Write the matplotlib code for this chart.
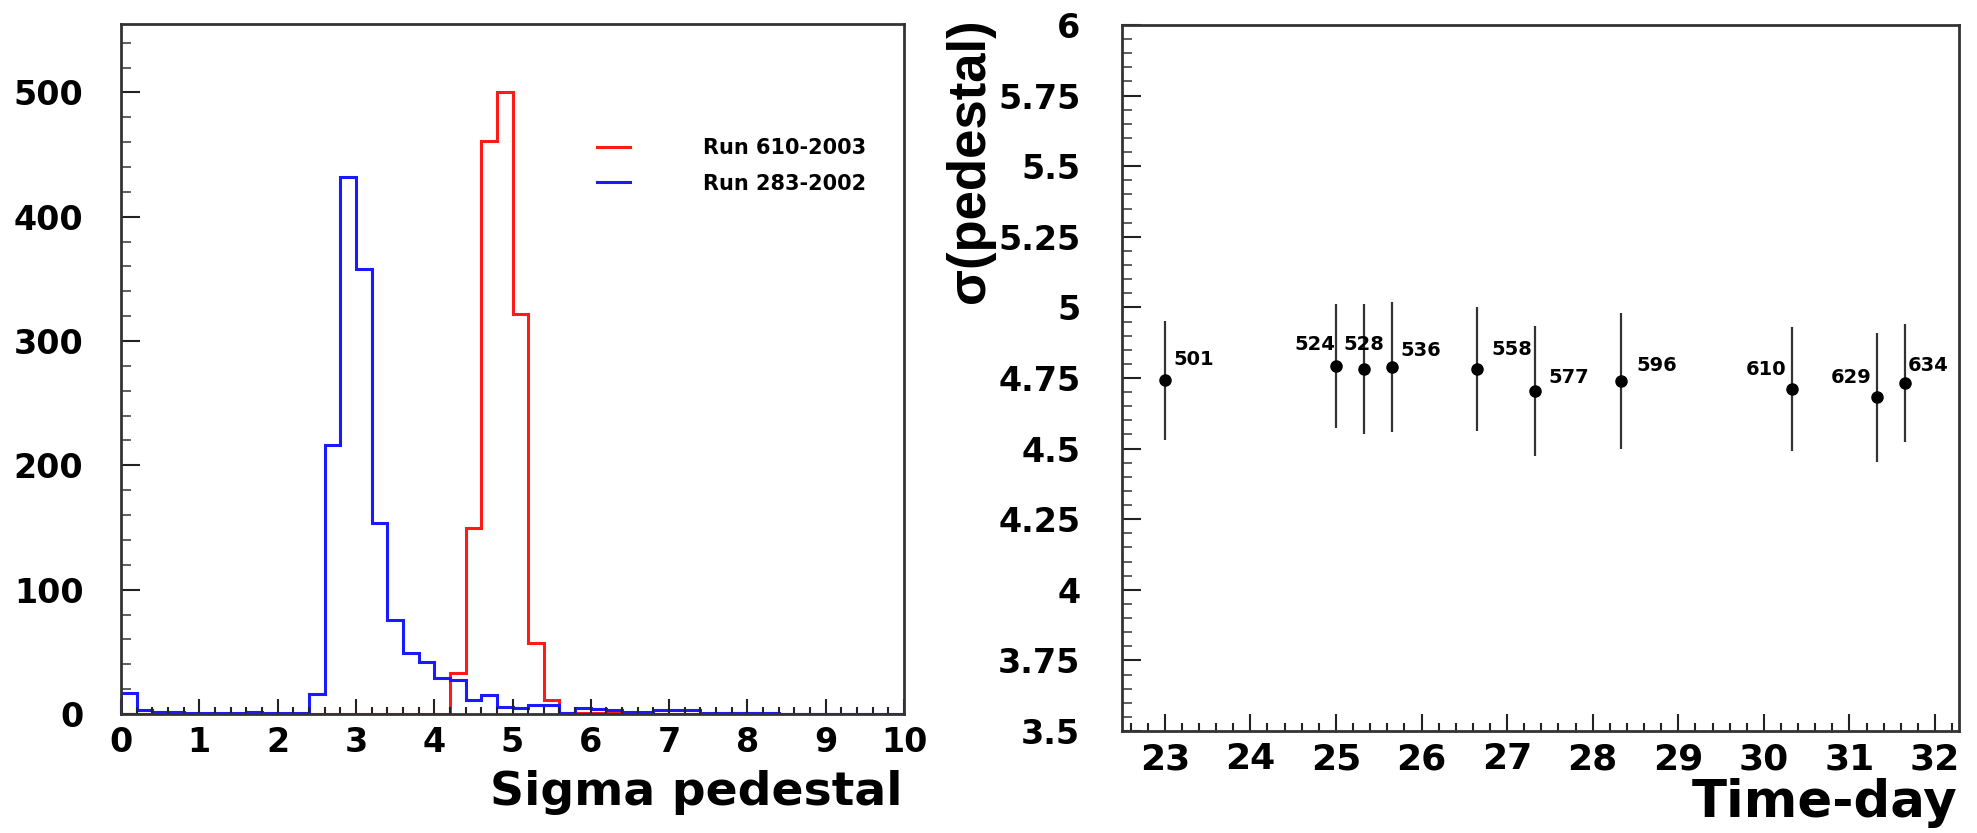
import numpy as np
import matplotlib
matplotlib.use("Agg")
import matplotlib.pyplot as plt
from matplotlib.ticker import MultipleLocator, FuncFormatter

# ---------------- data ----------------
hist_range = (0.0, 10.0)
n_bins = 50
blue_counts = [17, 3, 2, 2, 1, 1, 1, 1, 2, 1,
               1, 1, 16, 216, 432, 358, 154, 76, 49, 42,
               29, 27, 11, 15, 6, 5, 7, 7, 1, 5,
               4, 3, 2, 2, 3, 3, 3, 1, 1, 1,
               1, 1, 0, 0, 0, 0, 0, 0, 0, 0]
red_counts = [0, 0, 0, 0, 0, 0, 0, 0, 0, 0,
              0, 0, 0, 0, 0, 0, 0, 0, 0, 0,
              0, 33, 150, 461, 500, 322, 57, 11, 1, 1,
              1, 1, 0, 0, 0, 0, 0, 0, 1, 1,
              1, 1, 0, 0, 0, 0, 0, 0, 0, 0]
red_label = "Run 610-2003"
blue_label = "Run 283-2002"

days = [23.0, 25.0, 25.33, 25.66, 26.65, 27.32, 28.33, 30.33, 31.32, 31.65]
sigma = [4.742, 4.792, 4.781, 4.790, 4.782, 4.704, 4.740, 4.710, 4.681, 4.732]
sigma_err = [0.21, 0.22, 0.23, 0.23, 0.22, 0.23, 0.24, 0.22, 0.23, 0.21]
runs = ["501", "524", "528", "536", "558", "577", "596", "610", "629", "634"]

left_yticks = [0, 100, 200, 300, 400, 500]
left_xticks = [0, 1, 2, 3, 4, 5, 6, 7, 8, 9, 10]
right_xticks = [23, 24, 25, 26, 27, 28, 29, 30, 31, 32]
right_yticks = [3.5, 3.75, 4, 4.25, 4.5, 4.75, 5, 5.25, 5.5, 5.75, 6]

# label placement (pixel offsets from the point, horizontal alignment)
label_dx = [9, -1, 0, 8, 14, 14, 15, -6, -5, 3]
label_dy = [15, 16, 19, 11, 14, 8, 10, 14, 14, 12]
label_ha = ["left", "right", "center", "left", "left", "left", "left", "right", "right", "left"]

# ---------------- figure ----------------
W, H = 1977, 833
fig = plt.figure(figsize=(W / 100, H / 100), dpi=100)
FONT = "DejaVu Sans"
frame_col = "#333333"


def fx(px):
    return px / W


def fy(py):
    return 1 - py / H


def style_frame(ax):
    for s in ax.spines.values():
        s.set_linewidth(2.0)
        s.set_color(frame_col)


# ----- left panel -----
axL = fig.add_axes([fx(121), fy(714), fx(904) - fx(121), fy(24) - fy(714)])
edges = np.linspace(hist_range[0], hist_range[1], n_bins + 1)
axL.stairs(red_counts, edges, color="#ff1a1a", linewidth=2.2, baseline=0, label=red_label)
axL.stairs(blue_counts, edges, color="#1a1aff", linewidth=2.2, baseline=0, label=blue_label)
axL.set_xlim(0, 10)
axL.set_ylim(0, 555)
style_frame(axL)
axL.set_xticks(left_xticks)
axL.set_yticks(left_yticks)
axL.xaxis.set_minor_locator(MultipleLocator(0.2))
axL.yaxis.set_minor_locator(MultipleLocator(20))
axL.tick_params(axis="x", which="major", direction="in", length=11, width=1.5,
                color="#222222", pad=9, labelsize=24)
axL.tick_params(axis="x", which="minor", direction="in", length=5, width=1.5, color="#222222")
axL.tick_params(axis="y", which="major", direction="in", length=14, width=1.5,
                color="#222222", pad=27, labelsize=24)
axL.tick_params(axis="y", which="minor", direction="in", length=7, width=1.2, color="#444444")
for lab in axL.get_xticklabels() + axL.get_yticklabels():
    lab.set_fontweight("bold")
    lab.set_family(FONT)
fig.text(fx(903), fy(805), "Sigma pedestal", ha="right", va="baseline",
         fontsize=34, fontweight="bold", family=FONT)

leg = axL.legend(loc="upper left", bbox_to_anchor=(fx(597), fy(138)),
                 bbox_transform=fig.transFigure, frameon=False,
                 prop={"family": FONT, "weight": "bold", "size": 15},
                 handlelength=1.6, handletextpad=3.5, labelspacing=0.75,
                 borderpad=0, borderaxespad=0)

# ----- right panel -----
axR = fig.add_axes([fx(1122), fy(731), fx(1959) - fx(1122), fy(25) - fy(731)])
axR.errorbar(days, sigma, yerr=sigma_err, fmt="o", color="black", ecolor="#333333",
             elinewidth=1.6, markersize=8, capsize=0)
for d, s, r, dx, dy, ha in zip(days, sigma, runs, label_dx, label_dy, label_ha):
    axR.annotate(r, (d, s), xytext=(dx, dy), textcoords="offset pixels",
                 ha=ha, va="baseline", fontsize=14, fontweight="bold", family=FONT)
axR.set_xlim(22.5, 32.28)
axR.set_ylim(3.5, 6.0)
style_frame(axR)
axR.set_xticks(right_xticks)
axR.set_yticks(right_yticks)
axR.yaxis.set_major_formatter(FuncFormatter(lambda v, p: f"{v:g}"))
axR.xaxis.set_minor_locator(MultipleLocator(0.2))
axR.yaxis.set_minor_locator(MultipleLocator(0.05))
axR.tick_params(axis="x", which="major", direction="in", length=12, width=1.5,
                color="#222222", pad=8, labelsize=26)
axR.tick_params(axis="x", which="minor", direction="in", length=6, width=1.5, color="#222222")
axR.tick_params(axis="y", which="major", direction="in", length=14, width=1.5,
                color="#222222", pad=30, labelsize=24)
axR.tick_params(axis="y", which="minor", direction="in", length=7, width=1.2, color="#444444")
for lab in axR.get_xticklabels() + axR.get_yticklabels():
    lab.set_fontweight("bold")
    lab.set_family(FONT)
fig.text(fx(1957), fy(817), "Time-day", ha="right", va="baseline",
         fontsize=37, fontweight="bold", family=FONT)
fig.text(fx(970), fy(18), "σ(pedestal)", rotation=90, ha="center", va="top",
         fontsize=38, fontweight="bold", family="Liberation Sans")

fig.savefig("out.png", dpi=100, facecolor="white")
